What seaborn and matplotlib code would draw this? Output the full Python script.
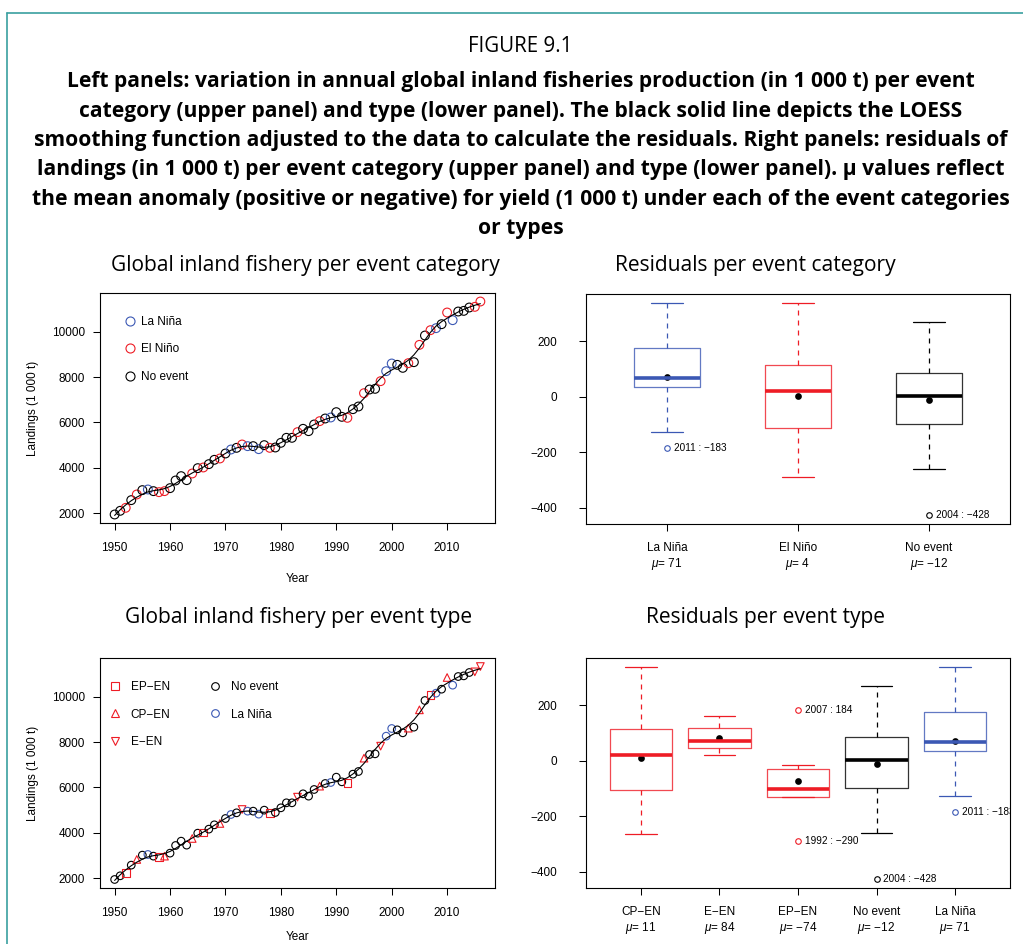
import numpy as np
import pandas as pd
import matplotlib
matplotlib.use("Agg")
import matplotlib.pyplot as plt
import seaborn as sns
from matplotlib.lines import Line2D

# ---- data ----
years = list(range(1950, 2017))
landings = [1941, 2103, 2235, 2574, 2824, 3015, 3044, 2971, 2926, 2971,
            3103, 3441, 3632, 3456, 3750, 3985, 4015, 4162, 4353, 4412,
            4632, 4809, 4882, 5029, 4956, 4956, 4824, 5000, 4882, 4897,
            5103, 5324, 5324, 5574, 5721, 5618, 5912, 6059, 6176, 6221,
            6456, 6250, 6206, 6588, 6706, 7294, 7456, 7485, 7824, 8265,
            8603, 8544, 8412, 8618, 8662, 9426, 9838, 10074, 10162, 10338,
            10853, 10515, 10897, 10926, 11074, 11103, 11338]
event_type = ["No event", "No event", "EP−EN", "No event", "CP−EN", "No event", "La Niña", "No event", "EP−EN", "CP−EN",
              "No event", "No event", "No event", "No event", "CP−EN", "No event", "EP−EN", "No event", "No event", "CP−EN",
              "No event", "La Niña", "No event", "E−EN", "La Niña", "No event", "La Niña", "No event", "EP−EN", "No event",
              "No event", "No event", "No event", "E−EN", "No event", "No event", "No event", "CP−EN", "No event", "La Niña",
              "No event", "No event", "EP−EN", "No event", "No event", "CP−EN", "No event", "No event", "E−EN", "La Niña",
              "La Niña", "No event", "No event", "CP−EN", "No event", "CP−EN", "No event", "EP−EN", "La Niña", "No event",
              "CP−EN", "La Niña", "No event", "No event", "No event", "E−EN", "E−EN"]
residuals = [-98, -35, -130, 30, 60, 170, 175, -58, -130, -180,
             -170, 55, 200, -150, -40, 66, -76, -10, 85, -106,
             2, 50, 22, 162, 67, 15, -128, 105, -15, -70,
             -120, 8, -135, 118, 115, -205, 2, 20, 45, 36,
             270, -45, -290, -105, -112, 155, 150, -22, 20, 182,
             340, 130, -260, -263, -428, 115, 90, 184, 100, 85,
             338, -183, 100, -85, -98, 47, 73]

cat_order = ["La Niña", "El Niño", "No event"]
cat_mu = [71, 4, -12]
type_order = ["CP−EN", "E−EN", "EP−EN", "No event", "La Niña"]
type_mu = [11, 84, -74, -12, 71]

BLUE = "#3b58b4"
RED = "#ee1c25"
cat_pal = {"La Niña": BLUE, "El Niño": RED, "No event": "black"}
type_pal = {"EP−EN": RED, "CP−EN": RED, "E−EN": RED, "No event": "black", "La Niña": BLUE}
type_markers = {"EP−EN": "s", "CP−EN": "^", "E−EN": "v", "No event": "o", "La Niña": "o"}

df = pd.DataFrame({"year": years, "landings": landings, "type": event_type, "resid": residuals})
df["category"] = df["type"].where(~df["type"].str.contains("EN"), "El Niño")


def loess(x, y, span=0.22):
    # local quadratic fit with tricube weights
    x = np.asarray(x, float)
    y = np.asarray(y, float)
    k = int(np.ceil(span * len(x)))
    fit = []
    for xi in x:
        d = np.abs(x - xi)
        h = np.sort(d)[k - 1] * 1.0001
        w = np.clip(1 - (d / h) ** 3, 0, None) ** 3
        X = np.vstack([np.ones_like(x), x - xi, (x - xi) ** 2]).T
        W = np.diag(w)
        beta = np.linalg.lstsq(X.T @ W @ X, X.T @ W @ y, rcond=None)[0]
        fit.append(beta[0])
    return np.array(fit)


df["smooth"] = loess(df["year"], df["landings"])

sns.set_style("ticks")
plt.rcParams["font.family"] = ["Liberation Sans", "DejaVu Sans"]
plt.rcParams["mathtext.fontset"] = "custom"
plt.rcParams["mathtext.it"] = "Liberation Sans:italic"
plt.rcParams["mathtext.rm"] = "Liberation Sans"
plt.rcParams["axes.linewidth"] = 0.8
plt.rcParams["axes.edgecolor"] = "black"
plt.rcParams["text.color"] = "black"
plt.rcParams["axes.labelcolor"] = "black"

W, H = 1023, 944
fig = plt.figure(figsize=(W / 100, H / 100), dpi=100)


def px_axes(l, t, r, b):
    return fig.add_axes([l / W, 1 - b / H, (r - l) / W, (b - t) / H])


ax_tl = px_axes(100, 293, 495, 523)
ax_tr = px_axes(586, 294, 1010, 524)
ax_bl = px_axes(100, 658, 495, 888)
ax_br = px_axes(586, 658, 1010, 888)

TICK_FS = 8.5


def style_axes(ax):
    for s in ax.spines.values():
        s.set_visible(True)
        s.set_linewidth(0.8)
    ax.tick_params(direction="out", length=5, width=0.75, labelsize=TICK_FS, colors="black")


def hollow(ax):
    for coll in ax.collections:
        fc = coll.get_facecolors()
        coll.set_edgecolors(fc)
        coll.set_facecolors("none")
        coll.set_linewidths(0.8)


# ---- left panels: landings over time ----
def landings_panel(ax, by_type):
    sns.lineplot(data=df, x="year", y="smooth", color="black", lw=0.8, ax=ax)
    if by_type:
        sns.scatterplot(data=df, x="year", y="landings", hue="type", style="type",
                        palette=type_pal, markers=type_markers, s=30, legend=False, ax=ax)
    else:
        sns.scatterplot(data=df, x="year", y="landings", hue="category",
                        palette=cat_pal, s=40, legend=False, ax=ax)
    hollow(ax)
    ax.set_xlim(1947.36, 2018.64)
    ax.set_ylim(1565, 11714)
    ax.set_xticks(range(1950, 2011, 10))
    ax.set_yticks(range(2000, 10001, 2000))
    style_axes(ax)
    ax.tick_params(axis="x", pad=9)
    ax.tick_params(axis="y", pad=6)
    ax.set_ylabel("Landings (1 000 t)", fontsize=TICK_FS, labelpad=9)


landings_panel(ax_tl, False)
ax_tl.set_xlabel("Year", fontsize=TICK_FS, labelpad=13)
h_cat = [Line2D([], [], ls="none", marker="o", mfc="none", mec=cat_pal[c], ms=6.5, mew=0.8)
         for c in cat_order]
ax_tl.legend(h_cat, cat_order, loc="upper left", bbox_to_anchor=(0.047, 0.925), frameon=False,
             fontsize=TICK_FS, handlelength=1.0, handletextpad=0.4, labelspacing=1.3, borderpad=0)

landings_panel(ax_bl, True)
ax_bl.set_xlabel("Year", fontsize=TICK_FS, labelpad=8)
leg_types = ["EP−EN", "CP−EN", "E−EN", "No event", "La Niña"]
h_type = [Line2D([], [], ls="none", marker=type_markers[t], mfc="none", mec=type_pal[t],
                 ms=5.5 if type_markers[t] == "o" else 6, mew=0.8) for t in leg_types]
ax_bl.legend(h_type, leg_types, loc="upper left", bbox_to_anchor=(0.0, 0.925), frameon=False, ncol=2,
             fontsize=TICK_FS, handlelength=1.6, handletextpad=0.5, labelspacing=1.3,
             columnspacing=3.0, borderpad=0)


# ---- right panels: residual boxplots ----
def resid_panel(ax, col, order, pal, mu, width):
    sns.boxplot(data=df, x=col, y="resid", order=order, hue=col, hue_order=order, palette=pal,
                fill=False, width=width, whis=1.5, linewidth=0.9, legend=False, ax=ax,
                boxprops={"alpha": 0.8},
                whiskerprops={"linestyle": (0, (4, 4))},
                medianprops={"linewidth": 2.6},
                flierprops={"marker": "o", "markersize": 4, "markerfacecolor": "none",
                            "markeredgewidth": 0.8})
    sns.pointplot(x=order, y=mu, order=order, color="black", linestyle="none",
                  markersize=2.8, errorbar=None, ax=ax)
    # label outliers (Tukey fences)
    for i, g in enumerate(order):
        sub = df[df[col] == g]
        q1, q3 = np.percentile(sub["resid"], [25, 75])
        iqr = q3 - q1
        out = sub[(sub["resid"] < q1 - 1.5 * iqr) | (sub["resid"] > q3 + 1.5 * iqr)]
        for _, r in out.iterrows():
            ax.annotate(f"{r['year']} : {r['resid']}".replace("-", "\u2212"), (i, r["resid"]),
                        xytext=(5, 0), textcoords="offset points", va="center", ha="left",
                        fontsize=7.2, annotation_clip=False, clip_on=True)
    ax.set_ylim(-459, 371)
    ax.set_yticks([-400, -200, 0, 200])
    ax.set_yticklabels([f"{v}".replace("-", "\u2212") for v in [-400, -200, 0, 200]])
    ax.set_xticks(range(len(order)))
    ax.set_xticklabels([f"{g}\n$\\mu$= {str(m).replace('-', chr(0x2212))}" for g, m in zip(order, mu)])
    style_axes(ax)
    ax.tick_params(axis="y", pad=16)
    ax.tick_params(axis="x", pad=8)
    ax.set_xlabel("")
    ax.set_ylabel("")


resid_panel(ax_tr, "category", cat_order, cat_pal, cat_mu, 0.5)
ax_tr.set_xlim(-0.62, 2.62)
resid_panel(ax_br, "type", type_order, type_pal, type_mu, 0.8)
ax_br.set_xlim(-0.7, 4.7)

# ---- titles / caption ----
TITLE_FONT = ["Open Sans", "DejaVu Sans"]
fig.text(520 / W, 1 - 46 / H, "FIGURE 9.1", ha="center", va="center", fontsize=14.8, family=TITLE_FONT)
caption = [
    "Left panels: variation in annual global inland fisheries production (in 1 000 t) per event",
    "category (upper panel) and type (lower panel). The black solid line depicts the LOESS",
    "smoothing function adjusted to the data to calculate the residuals. Right panels: residuals of",
    "landings (in 1 000 t) per event category (upper panel) and type (lower panel). μ values reflect",
    "the mean anomaly (positive or negative) for yield (1 000 t) under each of the event categories",
    "or types",
]
for i, line in enumerate(caption):
    fig.text(521 / W, 1 - (82 + 29.3 * i) / H, line, ha="center", va="center", fontsize=15.1,
             fontweight="bold", family=TITLE_FONT)

panel_titles = [(305, 265, "Global inland fishery per event category"),
                (755, 265, "Residuals per event category"),
                (299, 617, "Global inland fishery per event type"),
                (765, 617, "Residuals per event type")]
for x, y, t in panel_titles:
    fig.text(x / W, 1 - y / H, t, ha="center", va="center", fontsize=15.1, family=TITLE_FONT)

# teal frame of the source page
FRAME = "#3a9fa0"
fig.add_artist(Line2D([7 / W, 7 / W], [0, 1 - 13 / H], color=FRAME, lw=1.2, transform=fig.transFigure))
fig.add_artist(Line2D([7 / W, 1], [1 - 13 / H, 1 - 13 / H], color=FRAME, lw=1.2, transform=fig.transFigure))

fig.savefig("out.png", dpi=100)
